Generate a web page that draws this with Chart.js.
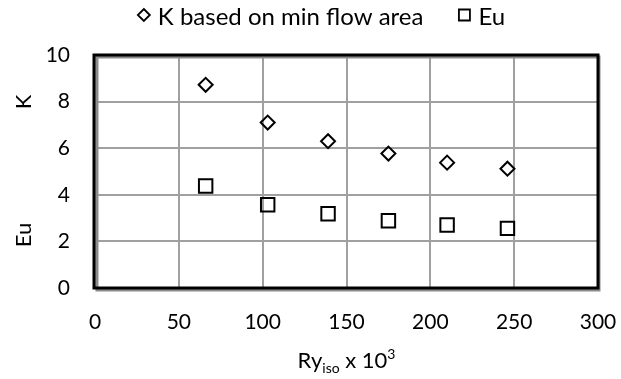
<!DOCTYPE html>
<html>
<head>
<meta charset="utf-8">
<script src="https://cdn.jsdelivr.net/npm/chart.js@4/dist/chart.umd.min.js"></script>
<style>
  html, body { margin: 0; padding: 0; background: #fff; }
  #wrap { width: 621px; height: 379px; }
</style>
</head>
<body>
<div id="wrap"><canvas id="mainGraph" width="621" height="379"></canvas></div>
<script>
// values
var ryIso = [66, 103, 139, 175, 210, 246];
var kValues = [8.72, 7.1, 6.3, 5.77, 5.38, 5.12];
var euValues = [4.38, 3.57, 3.19, 2.89, 2.70, 2.56];
var xTicks = [0, 50, 100, 150, 200, 250, 300];
var yTicks = [0, 2, 4, 6, 8, 10];

var FONT = 'Lato, "Open Sans", sans-serif';

function toPoints(xs, ys) {
    var pts = [];
    for (var i = 0; i < xs.length; i++) {
        pts.push({x: xs[i], y: ys[i]});
    }
    return pts;
}

function drawMarker(g, kind, x, y) {
    g.beginPath();
    if (kind == 'rectRot') {
        g.moveTo(x, y - 6); g.lineTo(x + 6, y); g.lineTo(x, y + 6); g.lineTo(x - 6, y); g.closePath();
    } else {
        g.rect(x - 5.5, y - 5.5, 11, 11);
    }
    g.stroke();
}

// legend, frame and the split axis titles
var extras = {
    id: 'extras',
    afterDatasetsDraw: function(chart) {
        var a = chart.chartArea;
        var ctx = chart.ctx;
        ctx.save();
        ctx.strokeStyle = '#8c8c8c';
        ctx.lineWidth = 3;
        ctx.strokeRect(a.left + 2, a.top + 2, a.right - a.left - 1, a.bottom - a.top);
        ctx.strokeStyle = '#000';
        ctx.lineWidth = 3;
        ctx.strokeRect(a.left - 1, a.top, a.right - a.left + 1, a.bottom - a.top);
        ctx.restore();
    },
    afterDraw: function(chart) {
        var ctx = chart.ctx;
        var a = chart.chartArea;
        ctx.save();
        ctx.fillStyle = '#000';
        ctx.strokeStyle = '#000';

        // legend
        ctx.font = '24px ' + FONT;
        ctx.textBaseline = 'middle';
        ctx.textAlign = 'left';
        ctx.lineWidth = 1.8;
        var items = chart.data.datasets;
        var total = 0;
        items.forEach(function(ds, i) {
            total += 20 + ctx.measureText(ds.label).width + (i < items.length - 1 ? 35 : 0);
        });
        var lx = (chart.width - total) / 2 + 11;
        items.forEach(function(ds) {
            drawMarker(ctx, ds.pointStyle, lx + 6, 15);
            ctx.fillText(ds.label, lx + 20, 17);
            lx += 20 + ctx.measureText(ds.label).width + 35;
        });

        // y titles
        ctx.font = '22px ' + FONT;
        ctx.textAlign = 'center';
        ctx.save();
        ctx.translate(24, 102);
        ctx.rotate(-Math.PI / 2);
        ctx.fillText('K', 0, 0);
        ctx.restore();
        ctx.save();
        ctx.translate(24, 235);
        ctx.rotate(-Math.PI / 2);
        ctx.fillText('Eu', 0, 0);
        ctx.restore();

        // x title with sub and superscript
        var cx = (a.left + a.right) / 2;
        var base = 368;
        var big = '22px ' + FONT, small = '14px ' + FONT;
        ctx.textBaseline = 'alphabetic';
        ctx.textAlign = 'left';
        var parts = [['Ry', big, 0], ['iso', small, 5], [' x 10', big, 0], ['3', small, -9]];
        var w = 0;
        parts.forEach(function(p) { ctx.font = p[1]; w += ctx.measureText(p[0]).width; });
        var x = cx - w / 2;
        parts.forEach(function(p) {
            ctx.font = p[1];
            ctx.fillText(p[0], x, base + p[2]);
            x += ctx.measureText(p[0]).width;
        });
        ctx.restore();
    }
};

var ctx = document.getElementById('mainGraph').getContext('2d');

var chart = new Chart(ctx, {
    type: 'scatter',
    data: {
        datasets: [{
            label: 'K based on min flow area',
            data: toPoints(ryIso, kValues),
            pointStyle: 'rectRot',
            pointRadius: 7,
            pointHoverRadius: 7,
            pointBorderWidth: 2,
            borderColor: '#000',
            backgroundColor: 'rgba(0,0,0,0)'
        }, {
            label: 'Eu',
            data: toPoints(ryIso, euValues),
            pointStyle: 'rect',
            pointRadius: 9.5,
            pointHoverRadius: 9.5,
            pointBorderWidth: 2,
            borderColor: '#000',
            backgroundColor: 'rgba(0,0,0,0)'
        }]
    },
    options: {
        responsive: false,
        animation: false,
        layout: { padding: { left: 0, right: 23, top: 55, bottom: 0 } },
        plugins: {
            tooltip: { enabled: false },
            legend: { display: false }
        },
        scales: {
            x: {
                type: 'linear',
                min: 0, max: 300,
                afterBuildTicks: function(scale) {
                    scale.ticks = xTicks.map(function(v) { return {value: v}; });
                },
                afterFit: function(scale) {
                    scale.height = 91;
                    scale.paddingLeft = 0;
                    scale.paddingRight = 0;
                },
                border: { display: false },
                grid: { color: '#a0a0a0', lineWidth: 2, drawTicks: false },
                ticks: { color: '#000', font: { family: FONT, size: 21 }, padding: 22, maxRotation: 0 }
            },
            y: {
                min: 0, max: 10,
                afterBuildTicks: function(scale) {
                    scale.ticks = yTicks.map(function(v) { return {value: v}; });
                },
                afterFit: function(scale) {
                    scale.width = 95;
                    scale.paddingTop = 0;
                    scale.paddingBottom = 0;
                },
                border: { display: false },
                grid: { color: '#a0a0a0', lineWidth: 2, drawTicks: false },
                ticks: { color: '#000', font: { family: FONT, size: 21 }, padding: 25 }
            }
        }
    },
    plugins: [extras]
});
</script>
</body>
</html>
